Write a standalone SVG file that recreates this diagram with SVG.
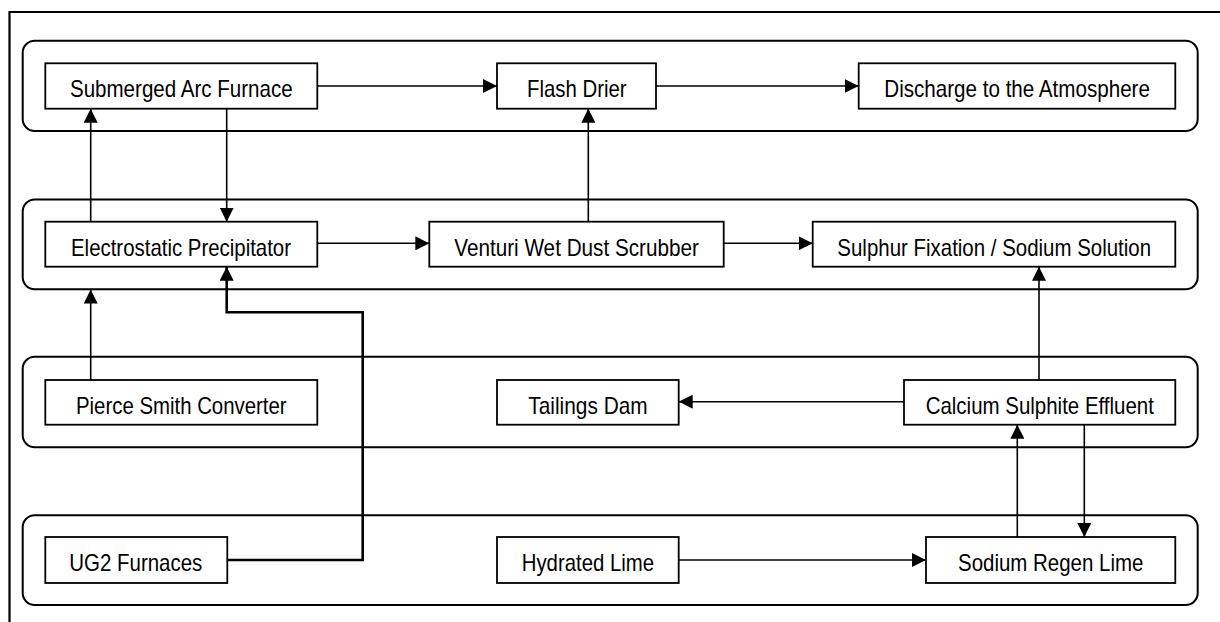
<svg xmlns="http://www.w3.org/2000/svg" width="1220" height="622" viewBox="0 0 1220 622">
<style>
.frame{fill:none;stroke:#000;stroke-width:2.2}
.lane{fill:none;stroke:#000;stroke-width:2}
.box{fill:#fff;stroke:#000;stroke-width:1.8}
.lbl{font-family:"Liberation Sans",Arial,sans-serif;font-size:24px;fill:#000;text-anchor:middle}
.c{fill:none;stroke:#000;stroke-width:1.6;marker-end:url(#ah)}
.thick{stroke-width:2.6}
</style>
<defs>
<marker id="ah" viewBox="0 0 14 14" refX="14" refY="7" markerWidth="14" markerHeight="14" markerUnits="userSpaceOnUse" orient="auto">
<path d="M0,0 L14,7 L0,14 z" fill="#000"/>
</marker>
</defs>
<rect width="1220" height="622" fill="#fff"/>
<path class="frame" d="M9.5,622 V12 H1220"/>
<g id="lanes">
<rect class="lane" x="22.7" y="40.7" width="1175" height="90.3" rx="12"/>
<rect class="lane" x="22.7" y="199.5" width="1175" height="89.8" rx="12"/>
<rect class="lane" x="22.7" y="356.7" width="1175" height="90.6" rx="12"/>
<rect class="lane" x="22.7" y="515.3" width="1175" height="89.7" rx="12"/>
</g>
<g id="connectors">
<path class="c" d="M317.3,86 H497"/>
<path class="c" d="M656,86 H858.7"/>
<path class="c" d="M90.7,221.7 V108.7"/>
<path class="c" d="M226.7,108.7 V221.7"/>
<path class="c" d="M588.3,221.7 V108.7"/>
<path class="c" d="M317.3,243.3 H429.3"/>
<path class="c" d="M723.7,243.3 H812.7"/>
<path class="c" d="M90.7,380 V289.5"/>
<path class="c thick" d="M227.3,560 H362.7 V312.3 H226.7 V266.7"/>
<path class="c" d="M1039,380 V266.7"/>
<path class="c" d="M904,401.7 H678.7"/>
<path class="c" d="M678.7,560 H926"/>
<path class="c" d="M1017.3,537 V424.7"/>
<path class="c" d="M1084.3,424.7 V537"/>
</g>
<g id="n-saf"><rect class="box" x="45.3" y="63.3" width="272" height="45.4"/><text class="lbl" x="181.3" y="97.3" textLength="222.7" lengthAdjust="spacingAndGlyphs">Submerged Arc Furnace</text></g>
<g id="n-flash"><rect class="box" x="497" y="63.3" width="159" height="45.4"/><text class="lbl" x="576.8" y="97.3" textLength="99.7" lengthAdjust="spacingAndGlyphs">Flash Drier</text></g>
<g id="n-discharge"><rect class="box" x="858.7" y="63.3" width="316.6" height="45.4"/><text class="lbl" x="1017.1" y="97.3" textLength="265.7" lengthAdjust="spacingAndGlyphs">Discharge to the Atmosphere</text></g>
<g id="n-esp"><rect class="box" x="45.3" y="221.7" width="272" height="45"/><text class="lbl" x="181" y="255.5" textLength="220" lengthAdjust="spacingAndGlyphs">Electrostatic Precipitator</text></g>
<g id="n-venturi"><rect class="box" x="429.3" y="221.7" width="294.4" height="45"/><text class="lbl" x="576.6" y="255.5" textLength="244.7" lengthAdjust="spacingAndGlyphs">Venturi Wet Dust Scrubber</text></g>
<g id="n-sulphur"><rect class="box" x="812.7" y="221.7" width="362.6" height="45"/><text class="lbl" x="994.2" y="255.5" textLength="313.7" lengthAdjust="spacingAndGlyphs">Sulphur Fixation / Sodium Solution</text></g>
<g id="n-pierce"><rect class="box" x="45.3" y="380" width="272" height="44.7"/><text class="lbl" x="181.3" y="413.5" textLength="210.7" lengthAdjust="spacingAndGlyphs">Pierce Smith Converter</text></g>
<g id="n-tailings"><rect class="box" x="497" y="380" width="181.7" height="44.7"/><text class="lbl" x="588" y="413.5" textLength="119.3" lengthAdjust="spacingAndGlyphs">Tailings Dam</text></g>
<g id="n-calcium"><rect class="box" x="904" y="380" width="271.3" height="44.7"/><text class="lbl" x="1039.8" y="413.5" textLength="228.3" lengthAdjust="spacingAndGlyphs">Calcium Sulphite Effluent</text></g>
<g id="n-ug2"><rect class="box" x="45.3" y="537" width="182" height="46"/><text class="lbl" x="135.8" y="571" textLength="133" lengthAdjust="spacingAndGlyphs">UG2 Furnaces</text></g>
<g id="n-hydrated"><rect class="box" x="497" y="537" width="181.7" height="46"/><text class="lbl" x="587.9" y="571" textLength="132.3" lengthAdjust="spacingAndGlyphs">Hydrated Lime</text></g>
<g id="n-sodium"><rect class="box" x="926" y="537" width="249.3" height="46"/><text class="lbl" x="1050.7" y="571" textLength="185.3" lengthAdjust="spacingAndGlyphs">Sodium Regen Lime</text></g>
</svg>
